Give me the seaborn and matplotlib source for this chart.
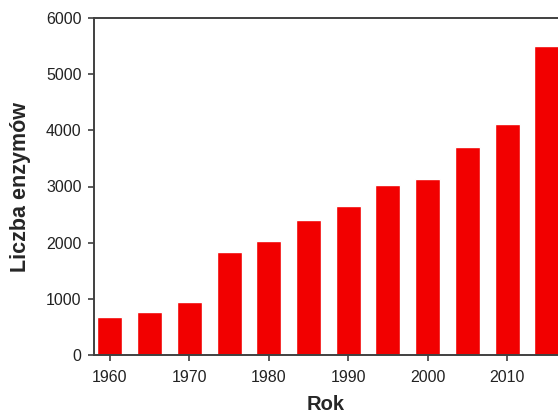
import matplotlib
matplotlib.use("Agg")
import matplotlib.pyplot as plt
import seaborn as sns
import pandas as pd

years = [1960, 1965, 1970, 1975, 1980, 1985, 1990, 1995, 2000, 2005, 2010, 2015]
enzymes = [670, 765, 935, 1840, 2030, 2400, 2655, 3025, 3135, 3710, 4120, 5500]
x_ticks = [1960, 1970, 1980, 1990, 2000, 2010]
y_ticks = [0, 1000, 2000, 3000, 4000, 5000, 6000]

df = pd.DataFrame({"Rok": years, "Liczba": enzymes})

sns.set_style("ticks")
plt.rcParams['font.family'] = ['Liberation Sans', 'DejaVu Sans']

fig = plt.figure(figsize=(5.58, 4.16), dpi=100)
ax = fig.add_axes([94 / 558, 61 / 416, 464 / 558, 337 / 416])

sns.barplot(data=df, x="Rok", y="Liczba", native_scale=True, color="#f20000",
            saturation=1, width=0.63, ax=ax)

ax.set_xlim(1958, 2016.4)
ax.set_ylim(0, 6000)
ax.set_xticks(x_ticks)
ax.set_yticks(y_ticks)
ax.tick_params(direction="out", length=4, width=1.2, color="#404040",
               labelsize=11.5, labelcolor="#222222")
ax.tick_params(axis="x", pad=7)
ax.tick_params(axis="y", pad=5)
for side in ["left", "bottom", "top"]:
    ax.spines[side].set_color("#404040")
    ax.spines[side].set_linewidth(1.4)
    ax.spines[side].set_visible(True)
ax.spines["right"].set_visible(False)

ax.set_xlabel("Rok", fontsize=14.5, fontweight="bold", labelpad=7)
ax.set_ylabel("Liczba enzymów", fontsize=15.5, fontweight="bold", labelpad=11)

fig.savefig("out.png", dpi=100)
